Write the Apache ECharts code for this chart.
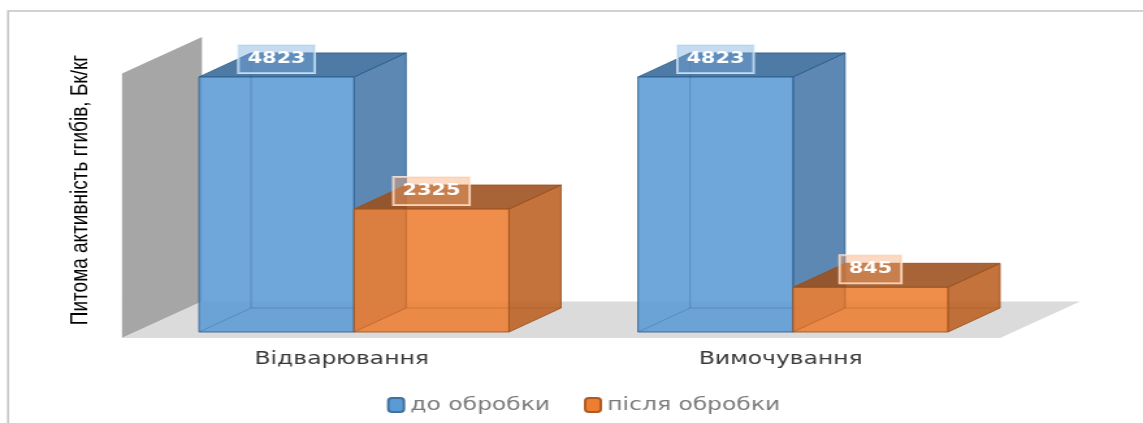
<!DOCTYPE html>
<html>
<head>
<meta charset="utf-8">
<script src="https://cdn.jsdelivr.net/npm/echarts@6/dist/echarts.min.js"></script>
<style>
  html, body { margin: 0; padding: 0; background: #fff; }
  #wrap { width: 1143px; height: 423px; overflow: hidden; }
  #main { width: 879px; height: 423px; transform: scaleX(1.30034); transform-origin: 0 0; }
</style>
</head>
<body>
<div id="wrap"><div id="main"></div></div>
<script>
// ---- data ----
const categories = ['Відварювання', 'Вимочування'];
const seriesNames = ['до обробки', 'після обробки'];
const beforeValues = [4823, 4823];
const afterValues = [2325, 845];
const yAxisTitle = 'Питома активність ггибів, Бк/кг';
const yMax = 5000;

// ---- style ----
const S = 1143 / 879;           // horizontal stretch of the picture
const BAR_RATIO = 0.353;        // bar width / category band
const BAR_DX = 40, BAR_DY = -24;      // bar depth
const ROOM_DX = 61.5, ROOM_DY = -36.5; // floor / wall depth
const FRONT_DX = 9.6, FRONT_DY = 6;    // floor front edge offset from bar front plane
const FACE_OPACITY = 0.88;
const palette = [
  { front: '#5b9bd5', side: '#4578a8', top: '#36699a', edge: '#2f5f8f',
    labelBg: 'rgba(120,170,220,0.42)', labelBorder: 'rgba(225,238,250,0.85)', legendBorder: '#41719c' },
  { front: '#ed7d31', side: '#bc6021', top: '#9c4f1b', edge: '#9c521e',
    labelBg: 'rgba(245,165,110,0.42)', labelBorder: 'rgba(255,235,220,0.85)', legendBorder: '#ae5a21' }
];

function barRenderer(idx) {
  const c = palette[idx];
  return function (params, api) {
    const cat = api.value(0), val = api.value(1);
    const base = api.coord([cat, 0]);
    const topPt = api.coord([cat, val]);
    const band = api.size([1, 0])[0];
    const w = band * BAR_RATIO;
    const x0 = idx === 0 ? base[0] - w : base[0];
    const x1 = x0 + w;
    const yb = base[1], yt = topPt[1];
    const dx = BAR_DX, dy = BAR_DY;
    const faceStyle = (fill) => ({ fill: fill, opacity: FACE_OPACITY, stroke: c.edge, lineWidth: 1 });
    const children = [
      { type: 'polygon', shape: { points: [[x1, yb], [x1, yt], [x1 + dx, yt + dy], [x1 + dx, yb + dy]] }, style: faceStyle(c.side) },
      { type: 'polygon', shape: { points: [[x0, yt], [x1, yt], [x1 + dx, yt + dy], [x0 + dx, yt + dy]] }, style: faceStyle(c.top) },
      { type: 'rect', shape: { x: x0, y: yt, width: w, height: yb - yt }, style: faceStyle(c.front) },
      // hidden back edges seen through the translucent faces
      { type: 'polyline', shape: { points: [[x0 + dx, yt + dy], [x0 + dx, yb + dy], [x1 + dx, yb + dy]] },
        style: { stroke: c.edge, lineWidth: 1, opacity: 0.35, fill: null } },
      { type: 'line', shape: { x1: x0, y1: yb, x2: x0 + dx, y2: yb + dy },
        style: { stroke: c.edge, lineWidth: 1, opacity: 0.35 } },
      { type: 'text', z2: 10,
        style: { text: String(val), x: (x0 + x1) / 2, y: yt - 18, align: 'center', verticalAlign: 'middle',
          fill: '#ffffff', fontFamily: 'DejaVu Sans', fontWeight: 'bold', fontSize: 16, lineHeight: 16,
          backgroundColor: c.labelBg, borderColor: c.labelBorder, borderWidth: 1, padding: [6, 7, 6, 7] } }
    ];
    return { type: 'group', children: children };
  };
}

function roomRenderer(params, api) {
  const cs = params.coordSys;
  const fxL = cs.x - FRONT_DX, fxR = cs.x + cs.width - FRONT_DX;
  const fyB = cs.y + cs.height + FRONT_DY, fyT = cs.y + FRONT_DY;
  return { type: 'group', children: [
    { type: 'polygon', shape: { points: [[fxL, fyB], [fxL, fyT], [fxL + ROOM_DX, fyT + ROOM_DY], [fxL + ROOM_DX, fyB + ROOM_DY]] },
      style: { fill: '#a6a6a6' } },
    { type: 'polygon', shape: { points: [[fxL, fyB], [fxR, fyB], [fxR + ROOM_DX, fyB + ROOM_DY], [fxL + ROOM_DX, fyB + ROOM_DY]] },
      style: { fill: '#dcdbdc' } }
  ] };
}

const chart = echarts.init(document.getElementById('main'), null, { renderer: 'canvas' });
const W = 879;
chart.setOption({
  animation: false,
  backgroundColor: '#ffffff',
  grid: { left: 134.5 / S, width: 878 / S, top: 67.6, height: 264.4, containLabel: false },
  xAxis: {
    type: 'category', data: categories,
    axisLine: { show: false }, axisTick: { show: false }, splitLine: { show: false },
    axisLabel: { fontFamily: 'DejaVu Sans', fontSize: 18, color: '#383838', margin: 18, padding: [0, 19, 0, 0] }
  },
  yAxis: { type: 'value', min: 0, max: yMax, show: false },
  legend: {
    data: seriesNames, left: 387 / S, top: 396, padding: 0, itemGap: 26,
    icon: 'roundRect', itemWidth: 12, itemHeight: 14,
    textStyle: { fontFamily: 'DejaVu Sans', fontSize: 18, color: '#7a7a7a' }
  },
  graphic: [
    { type: 'polyline', z: -10, shape: { points: [[W + 5, 11], [8 / S, 11], [8 / S, 430]] },
      style: { stroke: '#c4c4c4', lineWidth: 1.5, fill: null } },
    { type: 'text', x: 80 / S, y: 190, rotation: Math.PI / 2,
      style: { text: yAxisTitle, fontFamily: 'Liberation Sans', fontSize: 19, fill: '#000000',
        align: 'center', verticalAlign: 'middle' } }
  ],
  series: [
    { type: 'custom', name: 'room', renderItem: roomRenderer, data: [[0, 0]], silent: true, z: 1 },
    { type: 'custom', name: seriesNames[0], renderItem: barRenderer(0), z: 2,
      itemStyle: { color: palette[0].front, borderColor: palette[0].legendBorder, borderWidth: 1 },
      data: categories.map((c, i) => [i, beforeValues[i]]) },
    { type: 'custom', name: seriesNames[1], renderItem: barRenderer(1), z: 3,
      itemStyle: { color: palette[1].front, borderColor: palette[1].legendBorder, borderWidth: 1 },
      data: categories.map((c, i) => [i, afterValues[i]]) }
  ]
});
</script>
</body>
</html>
